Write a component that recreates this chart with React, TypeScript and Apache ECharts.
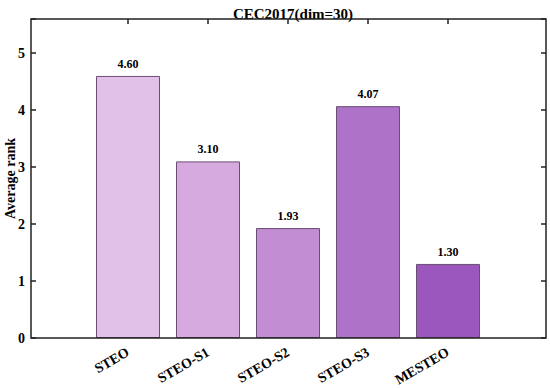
import React, { useEffect, useRef } from "react";
import * as echarts from "echarts";

const categories = ["STEO", "STEO-S1", "STEO-S2", "STEO-S3", "MESTEO"];
const values = [4.6, 3.1, 1.93, 4.07, 1.3];
const barColors = ["#e2c1e9", "#d6a9df", "#c28dd3", "#ae73c9", "#9b57be"];
const yTicks = [0, 1, 2, 3, 4, 5];
const title = "CEC2017(dim=30)";
const yName = "Average rank";

const FONT = "'Liberation Serif', 'Times New Roman', serif";

export default function App() {
  const ref = useRef<HTMLDivElement>(null);
  useEffect(() => {
    if (!ref.current) return;
    const chart = echarts.init(ref.current, null, { renderer: "svg" });
    const yMax = 5.6;
    const frameGrid = { left: 31, right: 4, top: 19, bottom: 50 };
    chart.setOption({
      animation: false,
      backgroundColor: "#ffffff",
      title: {
        text: title,
        left: 288,
        top: 1,
        textAlign: "center",
        textStyle: { fontFamily: FONT, fontWeight: "bold", fontSize: 15, color: "#000" },
      },
      grid: [
        {
          ...frameGrid,
          show: true,
          borderColor: "#222",
          borderWidth: 1.5,
          backgroundColor: "transparent",
          z: 10,
          containLabel: false,
          outerBoundsMode: "none",
        },
        { left: 88, right: 62, top: 19, bottom: 50, containLabel: false, outerBoundsMode: "none" },
      ],
      xAxis: [
        { type: "value", gridIndex: 0, min: 0, max: 1, show: false },
        {
          type: "category",
          gridIndex: 1,
          data: categories,
          position: "bottom",
          axisLine: { show: false },
          axisTick: { show: false },
          axisLabel: {
            rotate: 30,
            margin: 13,
            fontFamily: FONT,
            fontWeight: "bold",
            fontSize: 14,
            color: "#000",
          },
        },
        {
          type: "category",
          gridIndex: 1,
          data: categories,
          position: "top",
          axisLine: { show: false },
          axisTick: { show: true, inside: true, length: 5, alignWithLabel: true, lineStyle: { color: "#222", width: 1.5 } },
          axisLabel: { show: false },
        },
      ],
      yAxis: [
        {
          type: "value",
          gridIndex: 0,
          min: 0,
          max: yMax,
          interval: 1,
          position: "left",
          name: yName,
          nameLocation: "middle",
          nameGap: 14,
          nameMoveOverlap: false,
          nameTextStyle: { fontFamily: FONT, fontWeight: "bold", fontSize: 14, color: "#000" },
          splitLine: { show: false },
          axisLine: { show: false },
          axisTick: { show: true, inside: true, length: 5, lineStyle: { color: "#222", width: 1.5 } },
          axisLabel: {
            margin: 6,
            fontFamily: FONT,
            fontWeight: "bold",
            fontSize: 14,
            color: "#000",
            formatter: (v: number) => (yTicks.includes(v) ? String(v) : ""),
          },
        },
        {
          type: "value",
          gridIndex: 0,
          min: 0,
          max: yMax,
          interval: 1,
          position: "right",
          splitLine: { show: false },
          axisLine: { show: false },
          axisTick: { show: true, inside: true, length: 5, lineStyle: { color: "#222", width: 1.5 } },
          axisLabel: { show: false },
        },
        {
          type: "value",
          gridIndex: 1,
          min: 0,
          max: yMax,
          show: false,
        },
      ],
      series: [
        {
          type: "bar",
          xAxisIndex: 1,
          yAxisIndex: 2,
          barWidth: 64,
          data: values.map((v, i) => ({
            value: v,
            itemStyle: { color: barColors[i], borderColor: "#6a4f74", borderWidth: 1 },
          })),
          label: {
            show: true,
            position: "top",
            distance: 6,
            fontFamily: FONT,
            fontWeight: "bold",
            fontSize: 12,
            color: "#000",
            formatter: (p: any) => Number(p.value).toFixed(2),
          },
        },
      ],
    });
    return () => chart.dispose();
  }, []);
  return <div ref={ref} style={{ width: 550, height: 388, position: "absolute", left: 0, top: 0 }} />;
}
